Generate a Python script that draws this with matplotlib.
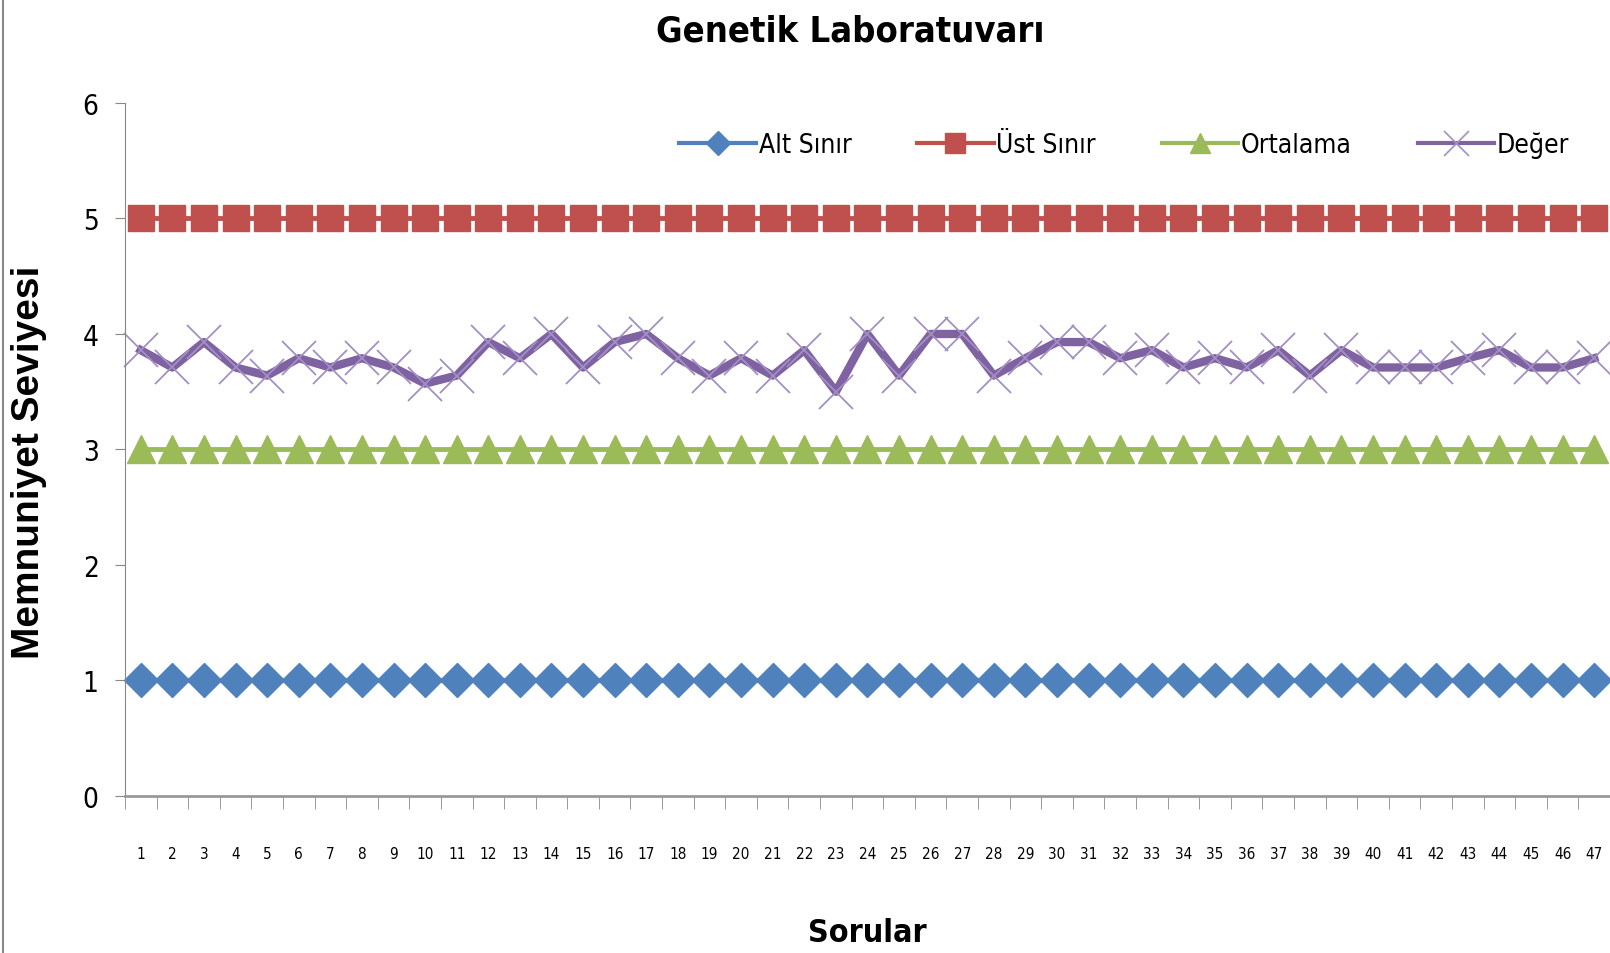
import matplotlib
matplotlib.use('Agg')
from matplotlib import pyplot as plt
from matplotlib import font_manager
from matplotlib.lines import Line2D

sorular = list(range(1, 48))
alt_sinir = [1] * 47
ust_sinir = [5] * 47
ortalama = [3] * 47
deger = [3.86, 3.71, 3.93, 3.71, 3.64, 3.79, 3.71, 3.79, 3.71, 3.57,
         3.64, 3.93, 3.79, 4.0, 3.71, 3.93, 4.0, 3.79, 3.64, 3.79,
         3.64, 3.86, 3.5, 4.0, 3.64, 4.0, 4.0, 3.64, 3.79, 3.93,
         3.93, 3.79, 3.86, 3.71, 3.79, 3.71, 3.86, 3.64, 3.86, 3.71,
         3.71, 3.71, 3.79, 3.86, 3.71, 3.71, 3.79]

# condensed DejaVu stands in for the narrow office font
narrow = dict(family='DejaVu Sans', stretch='condensed')

fig = plt.figure(figsize=(16.1, 9.54), dpi=100)
ax = fig.add_axes([0.0776, 0.1646, 0.9224, 0.7264])

ax.plot(sorular, alt_sinir, color='#4F81BD', lw=3.5, marker='D', ms=17, label='Alt Sınır', clip_on=False)
ax.plot(sorular, ust_sinir, color='#C0504D', lw=3.5, marker='s', ms=19, label='Üst Sınır', clip_on=False)
ax.plot(sorular, ortalama, color='#9BBB59', lw=3.5, marker='^', ms=20, label='Ortalama', clip_on=False)
ax.plot(sorular, deger, color='#7F62A1', lw=6, marker='x', ms=24, mew=1.3,
        markeredgecolor='#A28FC4', label='Değer', clip_on=False)

ax.set_xlim(0.5, 47.5)
ax.set_ylim(0, 6)
ax.set_yticks(range(0, 7))
ax.set_xticks(sorular)
ax.set_xticks([i + 0.5 for i in range(0, 48)], minor=True)
ax.tick_params(axis='x', which='major', length=0, pad=36, labelsize=11)
ax.tick_params(axis='x', which='minor', length=9, color='#888888', direction='out')
ax.tick_params(axis='y', length=7, color='#888888', direction='out', labelsize=20, pad=12)
for lab in ax.get_xticklabels() + ax.get_yticklabels():
    lab.set_family('DejaVu Sans')
    lab.set_stretch('condensed')

for s in ['top', 'right']:
    ax.spines[s].set_visible(False)
ax.spines['left'].set_color('#888888')
ax.spines['bottom'].set_color('#999999')
ax.spines['bottom'].set_linewidth(2)

fig.text(0.018, 0.515, 'Memnuniyet Seviyesi', rotation=90, ha='center', va='center',
         fontsize=28, fontweight='bold', family='Liberation Sans')
fig.text(0.539, 0.022, 'Sorular', ha='center', va='center', fontsize=23, fontweight='bold', **narrow)
fig.text(0.528, 0.967, 'Genetik Laboratuvarı', ha='center', va='center',
         fontsize=26, fontweight='bold', **narrow)

handles = [
    Line2D([], [], color='#4F81BD', lw=3, marker='D', ms=12),
    Line2D([], [], color='#C0504D', lw=3, marker='s', ms=14),
    Line2D([], [], color='#9BBB59', lw=3, marker='^', ms=14),
    Line2D([], [], color='#8064A2', lw=3, marker='x', ms=18, mew=1.2, markeredgecolor='#A28FC4'),
]
leg = ax.legend(handles, ['Alt Sınır', 'Üst Sınır', 'Ortalama', 'Değer'], ncol=4, frameon=False,
                loc='center', bbox_to_anchor=(0.673, 0.94), handlelength=2.9, handletextpad=0.1,
                columnspacing=2.5, prop=font_manager.FontProperties(size=19, **narrow))

fig.add_artist(Line2D([0.002, 0.002], [0, 1], color='#888888', lw=1.5, transform=fig.transFigure))

fig.savefig('out.png', dpi=100)
